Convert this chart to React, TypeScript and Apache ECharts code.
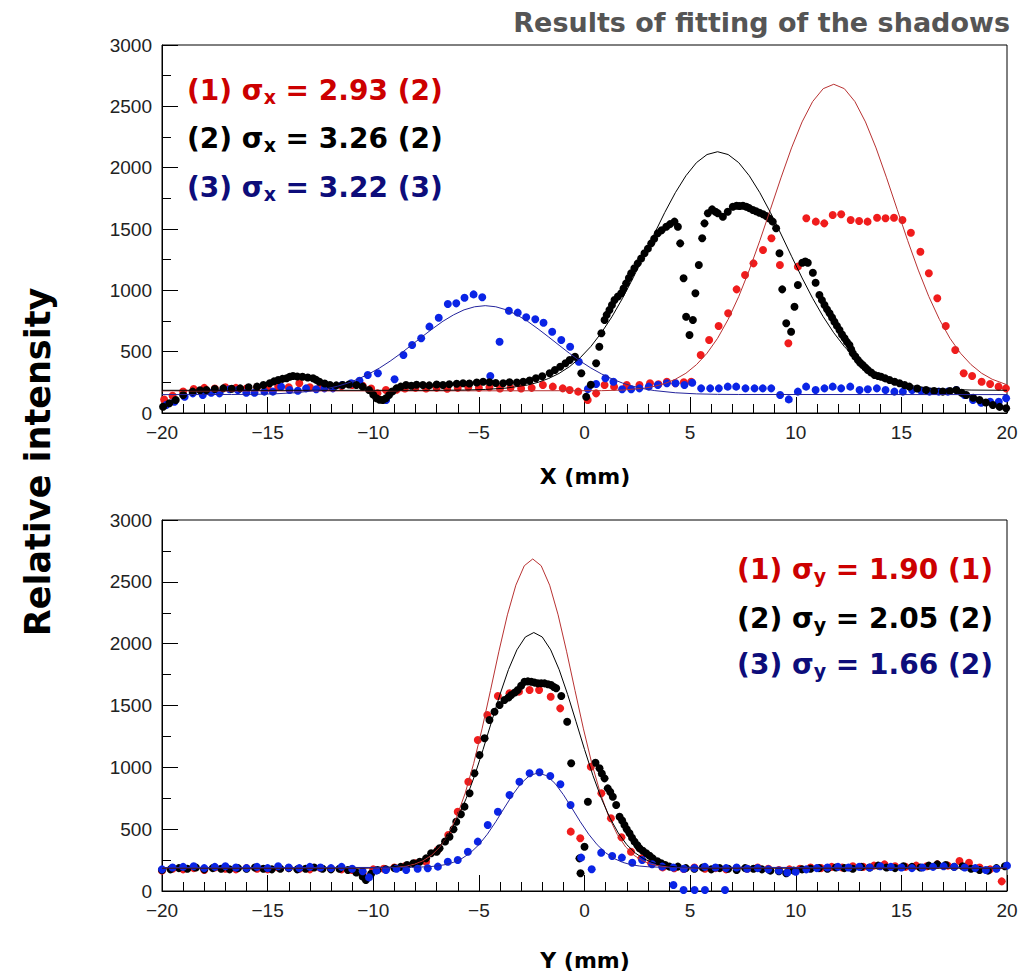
import React, { useEffect, useRef } from "react";
import * as echarts from "echarts";

// ---------- axis ticks ----------
const xMin = -20, xMax = 20, xStep = 5;
const yMin = 0, yMax = 3000, yStep = 500;

// ---------- legend texts ----------
const topLegend = [
  { pre: "(1) σ", sub: "x", post: " = 2.93 (2)", color: "#cc0000" },
  { pre: "(2) σ", sub: "x", post: " = 3.26 (2)", color: "#000000" },
  { pre: "(3) σ", sub: "x", post: " = 3.22 (3)", color: "#0d0d7a" },
];
const bottomLegend = [
  { pre: "(1) σ", sub: "y", post: " = 1.90 (1)", color: "#cc0000" },
  { pre: "(2) σ", sub: "y", post: " = 2.05 (2)", color: "#000000" },
  { pre: "(3) σ", sub: "y", post: " = 1.66 (2)", color: "#0d0d7a" },
];

// ---------- TOP (X profile) measured points ----------
const topRed = [
  [-19.9,110],[-19.5,140],[-19.0,175],[-18.5,195],[-18.0,205],[-17.5,200],[-17.0,210],[-16.5,205],[-16.0,200],[-15.5,210],
  [-15.0,205],[-14.5,215],[-14.0,210],[-13.5,242],[-13.0,210],[-12.5,215],[-12.0,215],[-11.5,220],[-11.0,228],[-10.5,222],
  [-10.1,200],[-9.8,160],[-9.4,187],[-8.9,190],[-8.5,200],[-8.0,205],[-7.5,200],[-7.0,205],[-6.5,198],[-6.0,205],
  [-5.5,210],[-5.0,205],[-4.5,210],[-4.0,200],[-3.5,205],[-3.0,200],[-2.5,205],[-1.97,228],[-1.5,215],[-1.03,201],
  [-0.7,187],[-0.3,174],[0.15,106],[0.55,160],[0.95,228],[1.4,215],[2.0,228],[2.6,228],[3.1,242],[3.5,235],
  [3.9,255],[4.3,242],[4.7,250],[5.05,255],[5.5,473],[5.9,595],[6.35,709],[6.8,813],[7.2,1008],[7.6,1125],
  [8.0,1220],[8.45,1329],[8.85,1424],[9.25,1206],[9.65,568],[10.1,1193],[10.5,1587],[10.95,1560],[11.35,1546],[11.75,1614],
  [12.15,1620],[12.6,1573],[13.0,1565],[13.4,1560],[13.85,1592],[14.25,1587],[14.65,1592],[15.05,1573],[15.45,1470],[15.9,1315],
  [16.3,1139],[16.7,935],[17.1,709],[17.55,514],[17.95,324],[18.35,302],[18.8,255],[19.2,236],[19.6,215],[19.95,201],
];
const topBlack = [
  [-19.95,51],[-19.65,79],[-19.35,106],[-19.0,147],[-18.55,174],[-18.2,185],[-17.9,187],[-17.5,195],[-17.1,201],[-16.7,198],
  [-16.3,201],[-15.9,210],[-15.5,215],[-15.2,228],[-14.9,242],[-14.7,258],[-14.5,269],[-14.3,278],[-14.1,283],[-13.95,296],
  [-13.8,302],[-13.6,298],[-13.35,296],[-13.1,290],[-12.85,283],[-12.7,270],[-12.55,255],[-12.3,240],[-12.05,228],[-11.75,225],
  [-11.45,228],[-11.15,232],[-10.8,228],[-10.5,215],[-10.2,187],[-10.0,150],[-9.85,120],[-9.7,108],[-9.55,106],[-9.4,120],
  [-9.25,147],[-9.1,175],[-8.9,201],[-8.7,215],[-8.45,228],[-8.2,222],[-7.95,230],[-7.65,228],[-7.35,225],[-7.0,232],
  [-6.7,228],[-6.4,235],[-6.05,238],[-5.75,242],[-5.45,240],[-5.1,248],[-4.8,255],[-4.5,250],[-4.2,245],[-3.85,242],
  [-3.55,250],[-3.2,248],[-2.9,255],[-2.6,265],[-2.3,283],[-2.0,300],[-1.65,324],[-1.4,350],[-1.15,377],[-0.9,405],
  [-0.7,432],[-0.45,459],[-0.15,324],[0.08,133],[0.3,230],[0.55,405],[0.7,540],[0.8,650],[0.95,758],[1.05,800],
  [1.18,840],[1.3,880],[1.42,921],[1.58,950],[1.74,976],[1.85,1015],[1.97,1057],[2.1,1100],[2.21,1139],[2.36,1180],
  [2.52,1220],[2.68,1260],[2.84,1302],[3.0,1340],[3.16,1383],[3.3,1420],[3.47,1465],[3.65,1490],[3.87,1519],[4.05,1540],
  [4.26,1560],[4.42,1519],[4.53,1383],[4.69,1098],[4.81,785],[4.97,636],[5.13,758],[5.25,976],[5.41,1206],[5.57,1424],
  [5.68,1546],[5.84,1628],[6.04,1660],[6.2,1640],[6.31,1628],[6.55,1600],[6.78,1641],[7.02,1682],[7.2,1690],[7.34,1687],
  [7.5,1690],[7.66,1682],[7.8,1670],[7.97,1655],[8.12,1645],[8.28,1633],[8.45,1620],[8.6,1606],[8.75,1585],[8.91,1560],
  [9.07,1506],[9.23,1302],[9.36,1008],[9.55,731],[9.78,663],[9.94,866],[10.1,1044],[10.31,1225],[10.45,1235],[10.57,1225],
  [10.81,1144],[10.94,1062],[11.12,962],[11.24,920],[11.36,880],[11.48,845],[11.6,813],[11.72,778],[11.83,744],[11.95,710],
  [12.07,677],[12.19,640],[12.31,609],[12.42,580],[12.54,554],[12.62,520],[12.7,487],[12.82,460],[12.94,432],[13.05,410],
  [13.17,391],[13.3,370],[13.41,351],[13.57,330],[13.73,310],[13.9,302],[14.04,296],[14.24,282],[14.44,269],[14.68,255],
  [14.91,242],[15.15,228],[15.38,215],[15.75,200],[16.17,187],[16.55,180],[16.96,174],[17.3,180],[17.6,187],[17.85,165],
  [18.07,147],[18.4,125],[18.7,106],[19.0,85],[19.33,65],[19.65,50],[19.96,38],
];
const topBlue = [
  [-19.8,65],[-19.41,92],[-18.93,133],[-18.54,160],[-18.07,147],[-17.67,165],[-17.28,160],[-16.8,193],[-16.41,187],[-16.01,165],
  [-15.62,165],[-15.15,174],[-14.75,174],[-14.36,215],[-13.96,187],[-13.57,182],[-13.18,201],[-12.7,193],[-12.31,201],[-11.91,201],
  [-11.47,228],[-11.04,242],[-10.65,263],[-10.26,310],[-9.78,324],[-9.39,106],[-8.99,275],[-8.57,473],[-8.16,554],[-7.73,609],
  [-7.34,704],[-6.9,777],[-6.47,889],[-6.07,894],[-5.68,940],[-5.25,967],[-4.84,943],[-4.46,302],[-4.02,581],[-3.58,834],
  [-3.16,818],[-2.76,780],[-2.33,764],[-1.94,736],[-1.53,663],[-1.1,595],[-0.68,540],[-0.27,418],[0.16,195],[0.55,236],
  [0.99,283],[1.37,255],[1.78,193],[2.21,193],[2.6,201],[3.04,215],[3.47,228],[3.9,242],[4.31,242],[4.73,228],
  [5.1,247],[5.52,201],[5.95,201],[6.36,201],[6.78,215],[7.18,215],[7.62,201],[8.05,201],[8.44,201],[8.84,201],
  [9.26,147],[9.67,111],[10.1,174],[10.49,215],[10.94,187],[11.36,201],[11.75,215],[12.15,201],[12.58,215],[13.02,187],
  [13.41,193],[13.84,201],[14.25,187],[14.67,174],[15.07,174],[15.51,187],[15.94,182],[16.33,174],[16.77,174],[17.2,174],
  [17.6,187],[17.99,147],[18.39,106],[18.78,84],[19.2,92],[19.61,92],[19.96,120],
];

// ---------- TOP fitted curves ----------
const topRedFit = [
  [-20,180],[-10,180],[-4,181],[-0.2,182],[0.8,182],[1.8,187],[2.8,202],[3.3,217],[3.8,240],[4.3,275],
  [4.8,324],[5.3,394],[5.8,487],[6.3,609],[6.8,763],[7.3,949],[7.8,1165],[8.3,1405],[8.8,1660],[9.3,1917],
  [9.8,2161],[10.3,2373],[10.8,2539],[11.3,2644],[11.8,2680],[12.3,2644],[12.8,2539],[13.3,2373],[13.8,2161],[14.3,1917],
  [14.8,1660],[15.3,1405],[15.8,1165],[16.3,949],[16.8,763],[17.3,609],[17.8,487],[18.3,394],[18.8,324],[19.3,275],
  [20,230],
];
const topBlackFit = [
  [-20,185],[-10,185],[-7.4,185],[-5.7,187],[-4.7,192],[-3.7,203],[-2.7,228],[-2.2,250],[-1.7,281],[-1.2,323],
  [-0.7,379],[-0.2,451],[0.3,542],[0.8,654],[1.3,785],[1.8,935],[2.3,1101],[2.8,1278],[3.3,1459],[3.8,1635],
  [4.3,1796],[4.8,1934],[5.3,2041],[5.8,2107],[6.3,2130],[6.8,2107],[7.3,2041],[7.8,1934],[8.3,1796],[8.8,1635],
  [9.3,1459],[9.8,1278],[10.3,1101],[10.8,935],[11.3,785],[11.8,654],[12.3,542],[12.8,451],[13.3,379],[13.8,323],
  [14.3,281],[14.8,250],[15.3,228],[16.3,203],[17.3,192],[18.3,187],[20,185],
];
const topBlueFit = [
  [-20,150],[-16.7,151],[-15.7,152],[-14.7,156],[-13.7,165],[-12.7,183],[-12.2,198],[-11.7,218],[-11.2,244],[-10.7,278],
  [-10.2,319],[-9.7,367],[-9.2,423],[-8.7,485],[-8.2,552],[-7.7,620],[-7.2,686],[-6.7,748],[-6.2,800],[-5.7,841],
  [-5.2,866],[-4.7,875],[-4.2,866],[-3.7,841],[-3.2,800],[-2.7,748],[-2.2,686],[-1.7,620],[-1.2,552],[-0.7,485],
  [-0.2,423],[0.3,367],[0.8,319],[1.3,278],[1.8,244],[2.3,218],[2.8,198],[3.3,183],[4.3,165],[5.3,156],
  [6.3,152],[7.3,151],[20,150],
];

// ---------- BOTTOM (Y profile) measured points ----------
const botRed = [
  [-20,165],[-19.5,180],[-19,175],[-18.5,185],[-18,170],[-17.5,190],[-17,180],[-16.5,175],[-16,185],[-15.5,180],
  [-15,175],[-14.5,190],[-14,185],[-13.5,180],[-13,175],[-12.5,185],[-12,180],[-11.5,175],[-11,170],[-10.5,140],
  [-10,175],[-9.5,180],[-9,190],[-8.5,200],[-8,225],[-7.5,237],[-6.95,332],[-6.45,453],[-6.0,641],[-5.5,884],
  [-5.05,1221],[-4.6,1423],[-4.1,1577],[-3.55,1599],[-3.1,1612],[-2.6,1625],[-2.15,1625],[-1.6,1571],[-1.15,1477],[-0.65,480],
  [-0.2,426],[0.3,1005],[0.8,790],[1.25,588],[1.75,434],[2.2,318],[2.7,264],[3.15,224],[3.7,191],[4.25,184],
  [4.7,178],[5.2,190],[5.7,180],[6.2,185],[6.7,175],[7.2,185],[7.7,180],[8.2,190],[8.7,180],[9.2,170],
  [9.7,175],[10.2,180],[10.7,190],[11.2,185],[11.7,195],[12.2,190],[12.7,200],[13.2,195],[13.7,205],[14.2,215],
  [14.7,200],[15.2,195],[15.7,205],[16.2,200],[16.7,215],[17.2,205],[17.75,243],[18.2,229],[18.7,190],[19.2,175],
  [19.75,78],
];
const botBlack = [
  [-20,170],[-19.6,175],[-19.2,185],[-18.8,180],[-18.4,190],[-18,175],[-17.6,185],[-17.2,180],[-16.8,175],[-16.4,185],
  [-16,180],[-15.6,190],[-15.2,180],[-14.8,175],[-14.4,180],[-14,185],[-13.6,175],[-13.2,180],[-12.8,190],[-12.4,180],
  [-12,175],[-11.6,180],[-11.2,170],[-10.8,150],[-10.5,116],[-10.35,89],[-10.1,140],[-9.8,170],[-9.4,175],[-9.0,185],
  [-8.7,195],[-8.4,210],[-8.1,225],[-7.8,237],[-7.5,264],[-7.26,305],[-7.0,318],[-6.86,345],[-6.6,400],[-6.39,439],
  [-6.2,500],[-6.07,560],[-5.85,620],[-5.68,682],[-5.44,790],[-5.21,952],[-4.97,1100],[-4.73,1235],[-4.5,1383],[-4.26,1450],
  [-4.02,1504],[-3.79,1544],[-3.6,1565],[-3.47,1585],[-3.3,1605],[-3.16,1625],[-3.0,1660],[-2.84,1692],[-2.68,1695],[-2.52,1692],
  [-2.36,1685],[-2.21,1679],[-2.05,1680],[-1.89,1679],[-1.73,1672],[-1.58,1666],[-1.45,1650],[-1.34,1639],[-1.1,1577],[-0.82,1369],
  [-0.63,1033],[-0.24,264],[-0.19,143],[0.0,358],[0.16,722],[0.52,1037],[0.71,992],[0.82,950],[0.95,911],[1.1,830],
  [1.22,800],[1.34,762],[1.5,695],[1.66,601],[1.78,570],[1.89,534],[2.0,500],[2.13,467],[2.25,430],[2.37,399],
  [2.5,370],[2.6,345],[2.76,325],[2.92,305],[3.08,285],[3.23,264],[3.45,240],[3.63,224],[3.82,210],[4.02,197],
  [4.42,197],[4.8,185],[5.2,180],[5.6,190],[6.0,175],[6.4,185],[6.8,180],[7.2,170],[7.6,185],[8.0,180],
  [8.4,175],[8.8,165],[9.2,160],[9.55,143],[9.9,165],[10.3,175],[10.7,180],[11.1,185],[11.5,180],[11.9,190],
  [12.3,185],[12.7,180],[13.1,195],[13.5,190],[13.9,205],[14.3,190],[14.7,185],[15.1,200],[15.5,195],[15.9,190],
  [16.3,205],[16.7,215],[17.1,210],[17.5,195],[17.9,200],[18.3,180],[18.7,170],[19.1,165],[19.5,185],[19.9,200],
];
const botBlue = [
  [-20,175],[-19.5,190],[-19,195],[-18.5,200],[-18,185],[-17.5,195],[-17,200],[-16.5,190],[-16,185],[-15.5,195],
  [-15,185],[-14.5,200],[-14,190],[-13.5,185],[-13,195],[-12.5,190],[-12,185],[-11.5,195],[-11,180],[-10.5,160],
  [-10.2,110],[-9.85,165],[-9.4,170],[-8.9,180],[-8.44,170],[-7.9,180],[-7.42,184],[-6.94,197],[-6.47,237],[-6.0,251],
  [-5.52,318],[-5.05,399],[-4.58,534],[-4.1,641],[-3.55,776],[-3.08,884],[-2.6,952],[-2.13,960],[-1.62,930],[-1.14,863],
  [-0.66,695],[-0.16,270],[0.34,176],[0.79,310],[1.31,283],[1.77,270],[2.26,229],[2.73,251],[3.2,216],[3.68,197],
  [4.21,49],[4.69,8],[5.21,8],[5.7,8],[6.65,8],[4.2,190],[4.7,180],[5.2,185],[5.7,195],[6.2,190],
  [6.7,185],[7.2,190],[7.7,180],[8.2,185],[8.7,175],[9.2,165],[9.6,150],[10.0,156],[10.5,175],[11.0,185],
  [11.5,190],[12.0,195],[12.5,190],[13.0,195],[13.5,190],[14.0,200],[14.5,195],[15.0,190],[15.5,185],[16.0,190],
  [16.5,195],[17.0,200],[17.5,195],[18.0,190],[18.5,185],[19.0,170],[19.5,180],[20,205],
];

// ---------- BOTTOM fitted curves ----------
const botRedFit = [
  [-20,185],[-12,185],[-10.45,185],[-9.25,189],[-8.45,202],[-8.05,217],[-7.65,244],[-7.25,288],[-6.85,356],[-6.45,458],
  [-6.05,600],[-5.65,790],[-5.25,1029],[-4.85,1311],[-4.45,1622],[-4.05,1939],[-3.65,2233],[-3.25,2473],[-2.85,2630],[-2.45,2685],
  [-2.05,2630],[-1.65,2473],[-1.25,2233],[-0.85,1939],[-0.45,1622],[-0.05,1311],[0.35,1029],[0.75,790],[1.15,600],[1.55,458],
  [1.95,356],[2.35,288],[2.75,244],[3.15,217],[3.55,202],[4.35,189],[5.55,185],[20,185],
];
const botBlackFit = [
  [-20,186],[-12,186],[-10.4,186],[-9.2,193],[-8.4,211],[-8.0,231],[-7.6,261],[-7.2,308],[-6.8,375],[-6.4,469],
  [-6.0,592],[-5.6,748],[-5.2,934],[-4.8,1145],[-4.4,1369],[-4.0,1590],[-3.6,1790],[-3.2,1950],[-2.8,2054],[-2.4,2090],
  [-2.0,2054],[-1.6,1950],[-1.2,1790],[-0.8,1590],[-0.4,1369],[0.0,1145],[0.4,934],[0.8,748],[1.2,592],[1.6,469],
  [2.0,375],[2.4,308],[2.8,261],[3.2,231],[3.6,211],[4.4,193],[5.6,186],[20,186],
];
const botBlueFit = [
  [-20,190],[-12,190],[-8.2,191],[-7.4,196],[-7.0,202],[-6.6,213],[-6.2,232],[-5.8,263],[-5.4,309],[-5.0,374],
  [-4.6,459],[-4.2,560],[-3.8,671],[-3.4,779],[-3.0,871],[-2.6,933],[-2.2,955],[-1.8,933],[-1.4,871],[-1.0,779],
  [-0.6,671],[-0.2,560],[0.2,459],[0.6,374],[1.0,309],[1.4,263],[1.8,232],[2.2,213],[2.6,202],[3.0,196],
  [3.8,191],[20,190],
];

const PT_RED = "#f01c1c";
const PT_BLACK = "#000000";
const PT_BLUE = "#0a24e6";
const FIT_RED = "#b83232";
const FIT_BLACK = "#000000";
const FIT_BLUE = "#24249c";

const BOLD_FONT = "'DejaVu Sans', 'Noto Sans', sans-serif";
const TICK_FONT = "'Liberation Sans', Arial, sans-serif";

function legendText(items: typeof topLegend, x: number, ys: number[], align: "left" | "right") {
  return items.map((it, i) => ({
    type: "text",
    x,
    y: ys[i],
    style: {
      text: `{a|${it.pre}}{s|${it.sub}}{a|${it.post}}`,
      textAlign: align,
      textVerticalAlign: "middle",
      rich: {
        a: { fontSize: 28, fontWeight: "bold", fontFamily: BOLD_FONT, fill: it.color, color: it.color, lineHeight: 32 },
        s: { fontSize: 19, fontWeight: "bold", fontFamily: BOLD_FONT, fill: it.color, color: it.color, lineHeight: 19, verticalAlign: "bottom" },
      },
    },
  }));
}

export default function App() {
  const ref = useRef<HTMLDivElement>(null);
  useEffect(() => {
    if (!ref.current) return;
    const chart = echarts.init(ref.current, undefined, { renderer: "svg" });

    const mkX = (gi: number) => ({
      type: "value",
      gridIndex: gi,
      min: xMin,
      max: xMax,
      interval: xStep,
      axisLine: { show: true, onZero: false, lineStyle: { color: "#000", width: 1 } },
      axisTick: { show: true, inside: true, length: 16, lineStyle: { color: "#000" } },
      minorTick: { show: true, splitNumber: 5, length: 9, lineStyle: { color: "#000" } },
      splitLine: { show: false },
      axisLabel: {
        fontSize: 19,
        color: "#222",
        fontFamily: TICK_FONT,
        margin: 10,
        formatter: (v: number) => String(v).replace("-", "−"),
      },
    });
    const mkY = (gi: number) => ({
      type: "value",
      gridIndex: gi,
      min: yMin,
      max: yMax,
      interval: yStep,
      axisLine: { show: true, onZero: false, lineStyle: { color: "#000", width: 1 } },
      axisTick: { show: true, inside: true, length: 16, lineStyle: { color: "#000" } },
      minorTick: { show: true, splitNumber: 2, length: 9, lineStyle: { color: "#000" } },
      splitLine: { show: false },
      axisLabel: { fontSize: 19, color: "#222", fontFamily: TICK_FONT, margin: 10, formatter: (v: number) => String(v) },
    });

    const pts = (data: number[][], gi: number, color: string) => ({
      type: "scatter",
      xAxisIndex: gi,
      yAxisIndex: gi,
      data,
      symbol: "circle",
      symbolSize: 8,
      itemStyle: { color, opacity: 1 },
      z: 2,
    });
    const fit = (data: number[][], gi: number, color: string) => ({
      type: "line",
      xAxisIndex: gi,
      yAxisIndex: gi,
      data,
      showSymbol: false,
      symbol: "none",
      lineStyle: { color, width: 1 },
      z: 3,
    });

    chart.setOption({
      animation: false,
      backgroundColor: "#ffffff",
      grid: [
        { left: 162, top: 45, width: 845, height: 368, show: true, borderColor: "#000", borderWidth: 1, backgroundColor: "transparent" },
        { left: 162, top: 520, width: 845, height: 371, show: true, borderColor: "#000", borderWidth: 1, backgroundColor: "transparent" },
      ],
      xAxis: [mkX(0), mkX(1)],
      yAxis: [mkY(0), mkY(1)],
      series: [
        pts(topRed, 0, PT_RED),
        pts(topBlue, 0, PT_BLUE),
        pts(topBlack, 0, PT_BLACK),
        fit(topRedFit, 0, FIT_RED),
        fit(topBlackFit, 0, FIT_BLACK),
        fit(topBlueFit, 0, FIT_BLUE),
        pts(botRed, 1, PT_RED),
        pts(botBlack, 1, PT_BLACK),
        pts(botBlue, 1, PT_BLUE),
        fit(botRedFit, 1, FIT_RED),
        fit(botBlackFit, 1, FIT_BLACK),
        fit(botBlueFit, 1, FIT_BLUE),
      ],
      graphic: [
        {
          type: "text",
          x: 1010,
          y: 22,
          style: {
            text: "Results of fitting of the shadows",
            fill: "#555555",
            font: `bold 27px ${BOLD_FONT}`,
            textAlign: "right",
            textVerticalAlign: "middle",
          },
        },
        {
          type: "text",
          x: 38,
          y: 462,
          rotation: Math.PI / 2,
          style: {
            text: "Relative intensity",
            fill: "#000",
            font: `bold 35px ${BOLD_FONT}`,
            textAlign: "center",
            textVerticalAlign: "middle",
          },
        },
        {
          type: "text",
          x: 585,
          y: 476,
          style: { text: "X (mm)", fill: "#000", font: `bold 22px ${BOLD_FONT}`, textAlign: "center", textVerticalAlign: "middle" },
        },
        {
          type: "text",
          x: 585,
          y: 960,
          style: { text: "Y (mm)", fill: "#000", font: `bold 22px ${BOLD_FONT}`, textAlign: "center", textVerticalAlign: "middle" },
        },
        ...legendText(topLegend, 187, [90, 138, 187], "left"),
        ...legendText(bottomLegend, 993, [569, 618, 664], "right"),
      ],
    });
    return () => chart.dispose();
  }, []);

  return (
    <div
      ref={ref}
      style={{ position: "absolute", left: 0, top: 0, width: 1026, height: 976, background: "#fff" }}
    />
  );
}
